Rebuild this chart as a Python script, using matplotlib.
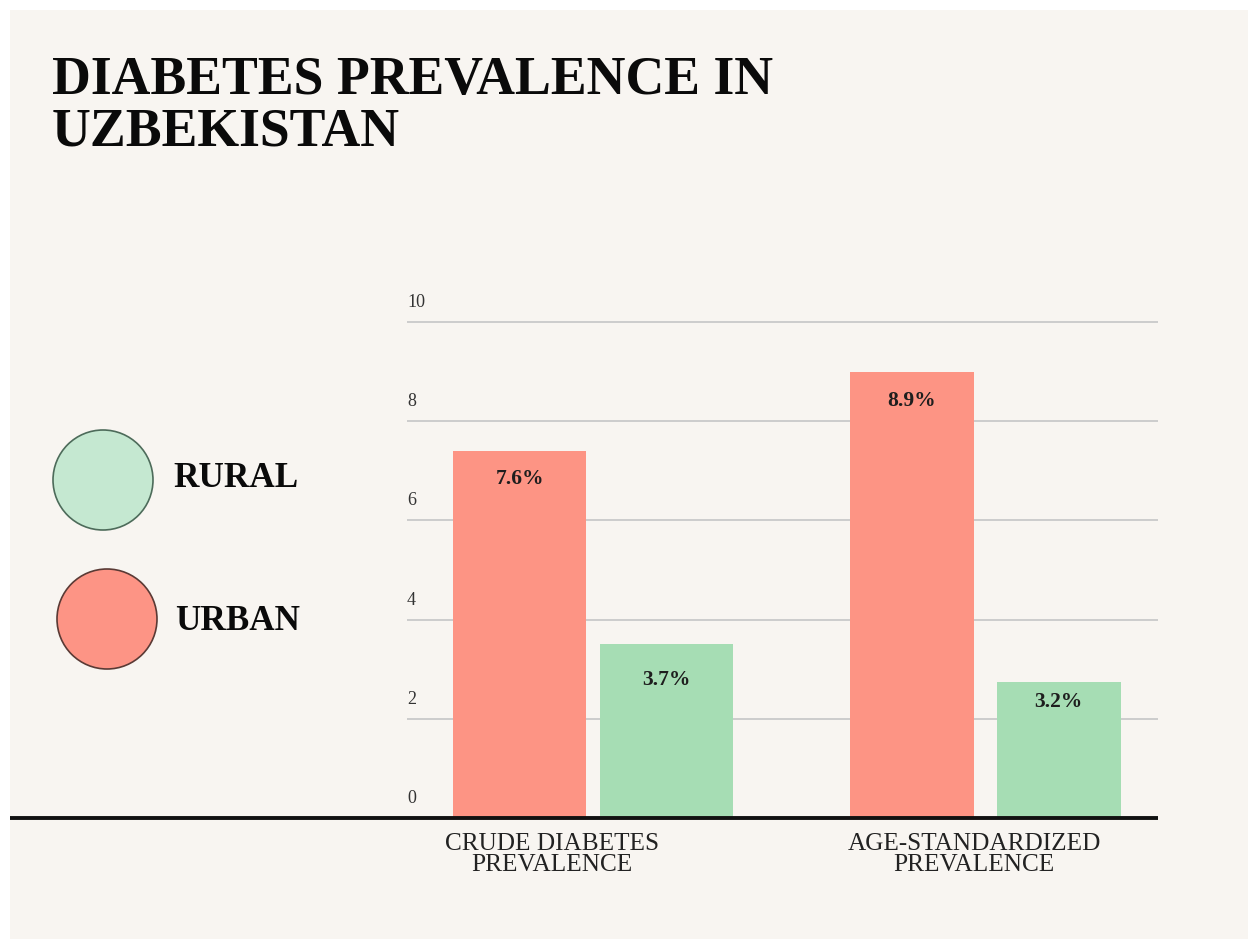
import matplotlib
matplotlib.use("Agg")
import matplotlib.pyplot as plt
from matplotlib.patches import Rectangle, Circle
from matplotlib.lines import Line2D
import matplotlib.transforms as mtransforms

# ---------------- data ----------------
categories = ["CRUDE DIABETES\nPREVALENCE", "AGE-STANDARDIZED\nPREVALENCE"]
urban_values = [7.4, 9.0]
rural_values = [3.5, 2.75]
urban_labels = ["7.6%", "8.9%"]
rural_labels = ["3.7%", "3.2%"]
series_names = ["RURAL", "URBAN"]
y_ticks = [0, 2, 4, 6, 8, 10]

# ---------------- style / layout ----------------
W, H, DPI = 1248, 939, 100
BG = "#f8f5f1"
URBAN_C = "#fd9484"
RURAL_C = "#a6ddb4"
RURAL_LEG = "#c5e8d1"
URBAN_LEG = "#fd9485"
SERIF = ["Liberation Serif", "DejaVu Serif"]

bar_offset = 0.1875
bar_widths = [0.339, 0.316]
cat_label_dx = [-0.105, -0.028]
urban_drop_px = [28, 29]
rural_drop_px = [36, 20]

def fx(px):
    return px / W

def fy(py):
    return 1 - py / H

fig = plt.figure(figsize=(W / DPI, H / DPI), dpi=DPI, facecolor="white")
fig.add_artist(Rectangle((fx(10), 0), 1 - fx(10), fy(10), transform=fig.transFigure,
                         facecolor=BG, edgecolor="none", zorder=-10))

ppu = 49.6  # pixels per y unit
ymax = 10.5
ax_left, ax_right = 407, 1158
ax_bottom = 818
ax = fig.add_axes([fx(ax_left), fy(ax_bottom), fx(ax_right - ax_left), ymax * ppu / H])
ax.set_facecolor("none")
ax.set_ylim(0, ymax)
ax.set_xlim(-0.4745, 1.441)
for s in ax.spines.values():
    s.set_visible(False)
ax.set_xticks([])
ax.set_yticks([])

# gridlines
for t in y_ticks[1:]:
    ax.axhline(t, color="#cccccc", lw=1.4, zorder=1)

# tick labels
blend = mtransforms.blended_transform_factory(ax.transAxes, ax.transData)
for t in y_ticks:
    ax.text(0.0, t + 0.22, str(t), transform=blend, ha="left", va="bottom",
            fontsize=13, color="#333333", family=SERIF)

# bars
xs = list(range(len(categories)))
for i, x in enumerate(xs):
    ax.bar(x - bar_offset, urban_values[i], width=bar_widths[i], color=URBAN_C, zorder=2)
    ax.bar(x + bar_offset, rural_values[i], width=bar_widths[i], color=RURAL_C, zorder=2)
    ax.annotate(urban_labels[i], (x - bar_offset, urban_values[i]),
                xytext=(0, -urban_drop_px[i] * 0.72), textcoords="offset points",
                ha="center", va="center", fontsize=15.5, fontweight="bold",
                color="#1e1e1e", family=SERIF, zorder=3)
    ax.annotate(rural_labels[i], (x + bar_offset, rural_values[i]),
                xytext=(0, -rural_drop_px[i] * 0.72), textcoords="offset points",
                ha="center", va="center", fontsize=15.5, fontweight="bold",
                color="#1e1e1e", family=SERIF, zorder=3)

# category labels
for i, cat in enumerate(categories):
    ax.text(xs[i] + cat_label_dx[i], -15 / ppu, cat, transform=ax.transData,
            ha="center", va="top", multialignment="center",
            fontsize=18.2, color="#222222", family=SERIF, linespacing=0.92,
            clip_on=False)

# baseline
fig.add_artist(Line2D([fx(10), fx(1158)], [fy(818), fy(818)], color="#111111",
                      lw=2.8, transform=fig.transFigure, solid_capstyle="butt"))

# title
fig.text(fx(52), fy(94), "DIABETES PREVALENCE IN", ha="left", va="baseline",
         fontsize=38.7, fontweight="bold", color="#0a0a0a", family=SERIF)
fig.text(fx(52), fy(146), "UZBEKISTAN", ha="left", va="baseline",
         fontsize=38.7, fontweight="bold", color="#0a0a0a", family=SERIF)

# legend
leg = [(series_names[0], RURAL_LEG, "#4d6b5a", 103, 480, 475, 173),
       (series_names[1], URBAN_LEG, "#5a3a35", 107, 619, 617, 175)]
for name, fc, ec, cx, cy, ty, tx in leg:
    r = 50
    fig.add_artist(Circle((cx, H - cy), r, transform=None, facecolor=fc,
                          edgecolor=ec, lw=1.2))
    fig.text(fx(tx), fy(ty), name, ha="left",
             va="center_baseline", fontsize=25.3, fontweight="bold",
             color="#0a0a0a", family=SERIF)

fig.savefig("out.png", dpi=DPI, facecolor="white")
